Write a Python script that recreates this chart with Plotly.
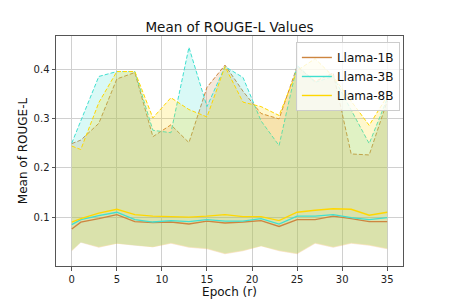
import plotly.graph_objects as go

epochs = [0, 1, 3, 5, 7, 9, 11, 13, 15, 17, 19, 21, 23, 25, 27, 29, 31, 33, 35]

# Llama-1B
mean_1b = [0.076, 0.090, 0.097, 0.105, 0.091, 0.089, 0.090, 0.086, 0.092, 0.088,
           0.090, 0.093, 0.081, 0.095, 0.095, 0.102, 0.097, 0.091, 0.091]
upper_1b = [0.249, 0.256, 0.290, 0.380, 0.393, 0.263, 0.287, 0.251, 0.363, 0.408,
            0.355, 0.310, 0.299, 0.405, 0.375, 0.392, 0.228, 0.226, 0.335]
lower_1b = [0.031, 0.048, 0.038, 0.046, 0.042, 0.039, 0.046, 0.038, 0.035, 0.025,
            0.031, 0.041, 0.031, 0.025, 0.046, 0.038, 0.046, 0.042, 0.035]

# Llama-3B
mean_3b = [0.085, 0.095, 0.103, 0.110, 0.095, 0.090, 0.093, 0.091, 0.095, 0.092,
           0.092, 0.097, 0.086, 0.102, 0.102, 0.105, 0.099, 0.095, 0.099]
upper_3b = [0.250, 0.296, 0.385, 0.395, 0.395, 0.276, 0.271, 0.444, 0.324, 0.405,
            0.383, 0.295, 0.245, 0.408, 0.373, 0.385, 0.317, 0.249, 0.340]
lower_3b = [0.033, 0.049, 0.040, 0.047, 0.043, 0.040, 0.048, 0.040, 0.037, 0.027,
            0.033, 0.042, 0.033, 0.027, 0.048, 0.040, 0.048, 0.044, 0.037]

# Llama-8B
mean_8b = [0.090, 0.097, 0.108, 0.116, 0.105, 0.102, 0.101, 0.100, 0.102, 0.105,
           0.101, 0.101, 0.093, 0.110, 0.114, 0.117, 0.116, 0.104, 0.110]
upper_8b = [0.244, 0.237, 0.332, 0.395, 0.395, 0.301, 0.342, 0.318, 0.303, 0.405,
            0.333, 0.324, 0.306, 0.397, 0.421, 0.385, 0.335, 0.286, 0.345]
lower_8b = [0.032, 0.049, 0.039, 0.046, 0.043, 0.039, 0.047, 0.039, 0.036, 0.026,
            0.032, 0.041, 0.032, 0.026, 0.047, 0.039, 0.047, 0.043, 0.036]

names = ["Llama-1B", "Llama-3B", "Llama-8B"]
colors = ["#CD853F", "#40E0D0", "#FFD700"]
fills = ["rgba(205,133,63,0.2)", "rgba(64,224,208,0.2)", "rgba(255,215,0,0.2)"]
means = [mean_1b, mean_3b, mean_8b]
uppers = [upper_1b, upper_3b, upper_8b]
lowers = [lower_1b, lower_3b, lower_8b]

FONT = "DejaVu Sans"
W, H = 441, 291  # page body has an 8px margin
fig = go.Figure()

for name, c, fc, lo, up in zip(names, colors, fills, lowers, uppers):
    fig.add_trace(go.Scatter(x=epochs, y=lo, mode="lines", line=dict(width=0, color=c),
                             showlegend=False, hoverinfo="skip"))
    fig.add_trace(go.Scatter(x=epochs, y=up, mode="lines", fill="tonexty", fillcolor=fc,
                             line=dict(width=1, color=c, dash="4px,2px"),
                             showlegend=False, hoverinfo="skip"))

for name, c, m in zip(names, colors, means):
    fig.add_trace(go.Scatter(x=epochs, y=m, mode="lines", name=name,
                             line=dict(width=1.4, color=c)))

axis_common = dict(showline=True, mirror=True, linecolor="#555555", linewidth=1,
                   showgrid=True, gridcolor="#d0d0d0", gridwidth=1,
                   ticks="outside", ticklen=3.5, tickcolor="#555555",
                   tickfont=dict(family=FONT, size=10, color="#222222"),
                   zeroline=False, automargin=False)

fig.update_layout(
    width=W, height=H,
    margin=dict(l=48, r=46, t=28, b=33, autoexpand=False),
    paper_bgcolor="white", plot_bgcolor="white",
    font=dict(family=FONT, color="#111111"),
    title=dict(text="Mean of ROUGE-L Values", font=dict(family=FONT, size=13.5, color="#111111"),
               x=0.5, xref="paper", xanchor="center",
               y=(H - 19) / H, yref="container", yanchor="middle", automargin=False),
    xaxis=dict(range=[-1.75, 36.75], tickvals=[0, 5, 10, 15, 20, 25, 30, 35],
               title=dict(text="Epoch (r)", font=dict(family=FONT, size=12), standoff=4),
               **axis_common),
    yaxis=dict(range=[0.001, 0.467], tickvals=[0.1, 0.2, 0.3, 0.4],
               tickformat=".1f",
               title=dict(text="Mean of ROUGE-L", font=dict(family=FONT, size=12), standoff=3),
               **axis_common),
    legend=dict(x=0.991, y=0.974, xanchor="right", yanchor="top", traceorder="normal",
                bgcolor="rgba(255,255,255,0.8)", bordercolor="#cccccc", borderwidth=1,
                font=dict(family=FONT, size=12), tracegroupgap=0),
    showlegend=True,
)

fig.write_html("out.html")
